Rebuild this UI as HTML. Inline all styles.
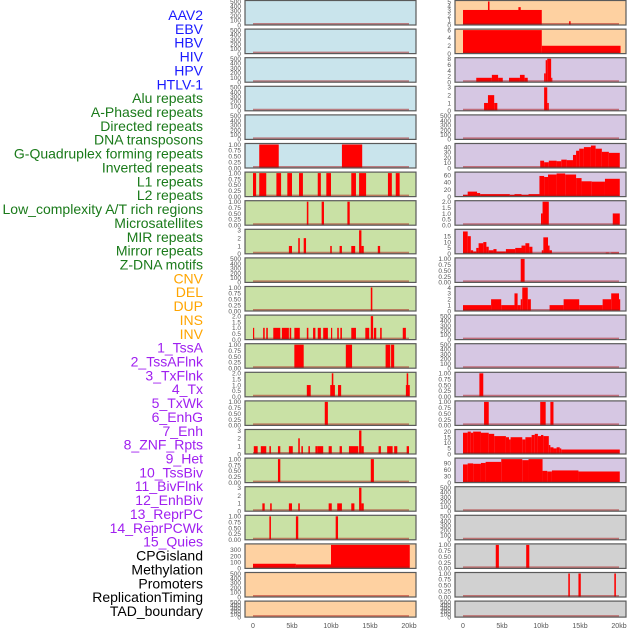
<!DOCTYPE html>
<html><head><meta charset="utf-8"><style>
html,body{margin:0;padding:0;background:#fff;width:630px;height:630px;overflow:hidden}
svg text{font-family:"Liberation Sans",sans-serif}
</style></head><body>
<svg id="chart" width="630" height="630" viewBox="0 0 630 630" xmlns="http://www.w3.org/2000/svg">
<g id="labels"></g>
<g id="panels"></g>
<g id="xaxis"></g>
</svg>
<script>
const trackLabels = ["AAV2","EBV","HBV","HIV","HPV","HTLV-1","Alu repeats","A-Phased repeats","Directed repeats","DNA transposons","G-Quadruplex forming repeats","Inverted repeats","L1 repeats","L2 repeats","Low_complexity A/T rich regions","Microsatellites","MIR repeats","Mirror repeats","Z-DNA motifs","CNV","DEL","DUP","INS","INV","1_TssA","2_TssAFlnk","3_TxFlnk","4_Tx","5_TxWk","6_EnhG","7_Enh","8_ZNF_Rpts","9_Het","10_TssBiv","11_BivFlnk","12_EnhBiv","13_ReprPC","14_ReprPCWk","15_Quies","CPGisland","Methylation","Promoters","ReplicationTiming","TAD_boundary"];
const labelColors = ["#1a1aff","#1a7a1a","#ffa500","#a020f0","#000000"];
const labelGroups = [0,0,0,0,0,0,1,1,1,1,1,1,1,1,1,1,1,1,1,2,2,2,2,2,3,3,3,3,3,3,3,3,3,3,3,3,3,3,3,4,4,4,4,4];
const bgColors = {0:"#c9e4ec",1:"#c9e1a5",2:"#fed1a1",3:"#d6c7e3",4:"#d1d1d1"};
const xTickValues = [0,5,10,15,20];
const xTickLabels = ["0","5kb","10kb","15kb","20kb"];
const trackMax = [500,500,500,500,500,1, 1,1,3,500,1,2,1,2,1,3,1,3,1,380,500,500, 5,6,8,3,500,45,66,2,20,1,4,500,500,1,1,21,110,500,500,1,1,500];
const trackTicks = [
[0,100,200,300,400,500],[0,100,200,300,400,500],[0,100,200,300,400,500],[0,100,200,300,400,500],[0,100,200,300,400,500],[0,0.25,0.5,0.75,1],
[0,0.25,0.5,0.75,1],[0,0.25,0.5,0.75,1],[0,1,2,3],[0,100,200,300,400,500],[0,0.25,0.5,0.75,1],[0,0.5,1,1.5,2],[0,0.25,0.5,0.75,1],[0,0.5,1,1.5,2],[0,0.25,0.5,0.75,1],[0,1,2,3],[0,0.25,0.5,0.75,1],[0,1,2,3],[0,0.25,0.5,0.75,1],[0,100,200,300],[0,100,200,300,400,500],[0,100,200,300,400,500],
[0,1,2,3,4,5],[0,2,4,6],[0,2,4,6,8],[0,1,2,3],[0,100,200,300,400,500],[0,10,20,30,40],[0,20,40,60],[0,0.5,1,1.5,2],[0,5,10,15],[0,0.25,0.5,0.75,1],[0,1,2,3,4],[0,100,200,300,400,500],[0,100,200,300,400,500],[0,0.25,0.5,0.75,1],[0,0.25,0.5,0.75,1],[0,5,10,15,20],[0,30,60,90],[0,100,200,300,400,500],[0,100,200,300,400,500],[0,0.25,0.5,0.75,1],[0,0.25,0.5,0.75,1],[0,100,200,300,400,500]];
const segHTLV1 = [[0.8,3.3,1],[11.4,14.0,1]];
const segAlu = [[0,0.4,1],[0.8,1.7,1],[3,3.6,1],[4.4,5,1],[5.9,6.4,1],[8.3,8.7,1],[9.4,10,1],[12.6,13.2,1],[13.6,14.5,1],[17.3,17.8,1],[18.3,18.8,1]];
const segAPhased = [[6.9,7.1,1],[8.8,9.1,1],[12.1,12.4,1]];
const segDirected = [[4.6,5.0,1],[5.8,6.0,2],[6.5,6.8,2],[9.9,10.1,1],[11.1,11.4,1],[12.6,13.1,1],[13.6,13.9,3],[13.9,14.2,1],[16,16.3,1]];
const segGQuad = [[15.1,15.3,1]];
const segInverted = [[0,0.15,1],[1.3,1.5,1],[1.7,1.9,1],[2.6,3.5,1],[3.7,4.6,1],[4.7,4.9,1],[5.3,6,1],[6.9,7.1,1],[7.7,8,1],[8.3,8.7,1],[9,9.6,1],[10,10.1,1],[10.8,11,1],[11.2,11.4,1],[12.6,13.2,1],[14.4,14.9,1],[15.1,15.4,2],[15.5,15.8,1],[16.3,16.5,1],[19.2,19.6,1]];
const segL1 = [[5.3,6.5,1],[11.9,12.7,1],[17,17.6,1],[17.7,18.1,1]];
const segL2 = [[6.9,7.4,1],[9.9,10.5,1],[10.1,10.3,2],[10.9,11.3,1],[19.6,20.1,1],[19.7,19.9,2]];
const segLowComplex = [[9.2,9.6,1]];
const segMicrosat = [[0.1,0.6,1],[1,1.7,1],[2.1,2.3,1],[3.2,3.5,1],[4.6,5.1,1],[5.8,6,2],[6.2,6.4,1],[7.1,7.3,1],[8,8.3,1],[8.3,9,1],[9.7,10.1,1],[11.1,11.4,1],[12.3,13.5,1],[13.6,13.9,3],[13.9,14.2,1],[16.1,16.4,1],[17.2,17.9,1],[18.1,18.5,1],[19.7,20,1]];
const segMIR = [[3.2,3.5,1],[15.1,15.5,1]];
const segMirror = [[1.2,1.5,1],[2.2,2.4,1],[4.6,5,1],[5.8,6,1],[9.7,10.1,1],[10.8,11.4,1],[12.6,13,1],[13.6,13.9,3],[13.9,14.2,1]];
const segZDNA = [[2.1,2.3,1],[5.5,5.8,1],[10.6,10.9,1]];
const segCNV = [[0,5.5,75],[5.5,10,65],[10,20.1,380]];
const segINS = [[0,10.1,3.2],[3.2,3.4,5],[7.1,7.4,3.8],[13.6,13.8,0.8]];
const segINV = [[0,10.1,6],[10.1,20.2,2]];
const segTssA = [[1.7,3.7,1.5],[3.7,4.5,2.5],[4.5,5.1,1.5],[5.9,7.3,1.5],[7.3,7.9,2.5],[7.9,8.3,1.5],[10.4,10.6,3],[10.6,10.8,7.5],[10.8,11.3,8],[11.3,11.4,1.5]];
const segTssAFlnk = [[2.7,3.2,1],[3.2,4,2],[4,4.4,1],[10.4,10.8,3],[10.8,11,1]];
const segTx = [[9.9,10.4,14],[10.4,11,11],[11,12,14],[12,12.6,13],[12.6,13.3,16],[13.3,14.1,15],[14.1,14.5,25],[14.5,14.9,33],[14.9,15.5,37],[15.5,16.4,40],[16.4,17,43],[17,17.8,37],[17.8,18.7,31],[18.7,20.1,29]];
const segTxWk = [[0,0.6,5],[0.6,1.8,14],[1.8,2.2,10],[2.2,6,7],[6,6.6,5],[6.6,7.5,7],[7.5,8.4,5],[8.4,9.8,7],[9.8,10.4,58],[10.4,10.9,55],[10.9,12,62],[12,13.1,65],[13.1,14.5,62],[14.5,15.2,52],[15.2,16.5,43],[16.5,18.2,42],[18.2,20.1,50]];
const segEnhG = [[10,10.2,1],[10.2,11,2],[19.2,20.1,1]];
const segEnh = [[0,0.6,19],[0.6,1,15],[1,1.3,3],[1.3,1.7,2],[1.7,2,5],[2,2.6,9],[2.6,3,10],[3,3.3,6],[3.3,3.9,3],[3.9,4.3,4],[4.3,5.5,2],[5.5,6.7,4],[6.7,7.5,5],[7.5,8,7],[8,8.5,9],[8.5,8.9,6],[10.1,10.3,3],[10.3,10.9,14],[10.9,11.1,7],[11.1,11.4,3],[18.3,18.7,1],[19,20,1]];
const segZNF = [[7.4,7.9,1]];
const segHet = [[0,3.6,1],[3.6,4.9,2],[4.9,6.6,1],[6.6,7,3],[7,7.4,1],[7.4,7.6,2],[7.6,8.3,4],[8.3,8.7,2],[11.1,12.9,1],[12.9,14.9,2],[14.9,17.9,1],[17.9,19,2],[19,20,3],[20,20.1,2]];
const segBivFlnk = [[2.1,2.6,1]];
const segEnhBiv = [[2.7,3.3,1],[9.9,10.6,1],[11.2,11.6,1]];
const segReprPC = [[0,0.6,19],[0.6,1,20],[1,1.3,19],[1.3,2.3,20],[2.3,3.3,19],[3.3,4,18],[4,5.5,16],[5.5,5.9,15],[5.9,6.1,13],[6.1,7.6,15],[7.6,8,13],[8,8.8,15],[8.8,9.2,17],[9.2,9.6,18],[9.6,10,16],[10,10.3,17],[10.3,11,16],[11,11.2,8],[11.2,11.6,6],[11.6,12,5],[12,12.4,6],[12.4,12.6,5],[12.6,20.1,4]];
const segReprPCWk = [[0,0.6,85],[0.6,1.3,90],[1.3,2.3,88],[2.3,2.9,92],[2.9,4.9,97],[4.9,7.6,110],[7.6,8.4,105],[8.4,10.2,110],[10.2,10.8,55],[10.8,11.4,52],[11.4,14.8,57],[14.8,20.1,52]];
const segPromoters = [[4.2,4.6,1],[8.1,8.5,1]];
const segRepTiming = [[13.5,13.7,1],[14.8,15.1,1],[19.4,19.6,1]];
const trackSegments = [[],[],[],[],[],segHTLV1, segAlu,segAPhased,segDirected,[],segGQuad,segInverted,segL1,segL2,segLowComplex,segMicrosat,segMIR,segMirror,segZDNA,segCNV,[],[],
 segINS,segINV,segTssA,segTssAFlnk,[],segTx,segTxWk,segEnhG,segEnh,segZNF,segHet,[],[],segBivFlnk,segEnhBiv,segReprPC,segReprPCWk,[],[],segPromoters,segRepTiming,[]];

const NS="http://www.w3.org/2000/svg";
function mk(tag, attrs, parent){const e=document.createElementNS(NS,tag);for(const k in attrs)e.setAttribute(k,attrs[k]);parent.appendChild(e);return e;}
const cols=[{x0:245,x1:416,k0:253,k20:409,tx:241},{x0:455,x1:626,k0:463,k20:619,tx:451}];
function rowTop(r){return r*28.6+0.5;}
function rowH(r){return r===21?16:24.5;}
function fmt(v,m){if(m===1)return v.toFixed(2);if(m===2)return v.toFixed(1);return String(v);}

const lab=document.getElementById('labels');
trackLabels.forEach((t,i)=>{
  const e=mk('text',{x:203,y:20+i*13.86,'text-anchor':'end','font-size':14,fill:labelColors[labelGroups[i]]},lab);
  e.textContent=t;
  
  
});

const pg=document.getElementById('panels');
trackLabels.forEach((t,i)=>{
  const c=i<22?0:1, r=i%22, col=cols[c];
  const top=rowTop(r), h=rowH(r), bot=top+h;
  const xs=k=>col.k0+(col.k20-col.k0)*k/20;
  const m=trackMax[i];
  const ys=v=>bot-(h-1)*Math.min(v,m)/m;
  const g=mk('g',{},pg);
  
  
  mk('rect',{x:col.x0,y:top,width:col.x1-col.x0,height:h,fill:bgColors[labelGroups[i]]},g);
  trackSegments[i].forEach(s=>{
    const b=mk('rect',{x:xs(s[0]),y:ys(s[2]),width:Math.max(1.2,xs(s[1])-xs(s[0])),height:bot-ys(s[2]),fill:'#ff0000'},g);
    
    
  });
  mk('line',{x1:xs(0),x2:xs(20),y1:bot-1,y2:bot-1,stroke:'rgba(170,20,20,0.5)','stroke-width':2},g);
  mk('rect',{x:col.x0,y:top,width:col.x1-col.x0,height:h,fill:'none',stroke:'#5a5a5a','stroke-width':1.2},g);
  trackTicks[i].forEach(v=>{
    const tt=mk('text',{x:col.tx,y:ys(v)+2.3,'text-anchor':'end','font-size':6.5,fill:'#555'},g);
    tt.textContent=fmt(v,m);
    
    
  });
});

const xa=document.getElementById('xaxis');
cols.forEach(col=>{
  xTickValues.forEach((v,j)=>{
    const e=mk('text',{x:col.k0+(col.k20-col.k0)*v/20,y:628,'text-anchor':'middle','font-size':7,fill:'#555'},xa);
    e.textContent=xTickLabels[j];
    
    
  });
});
</script>
</body></html>
